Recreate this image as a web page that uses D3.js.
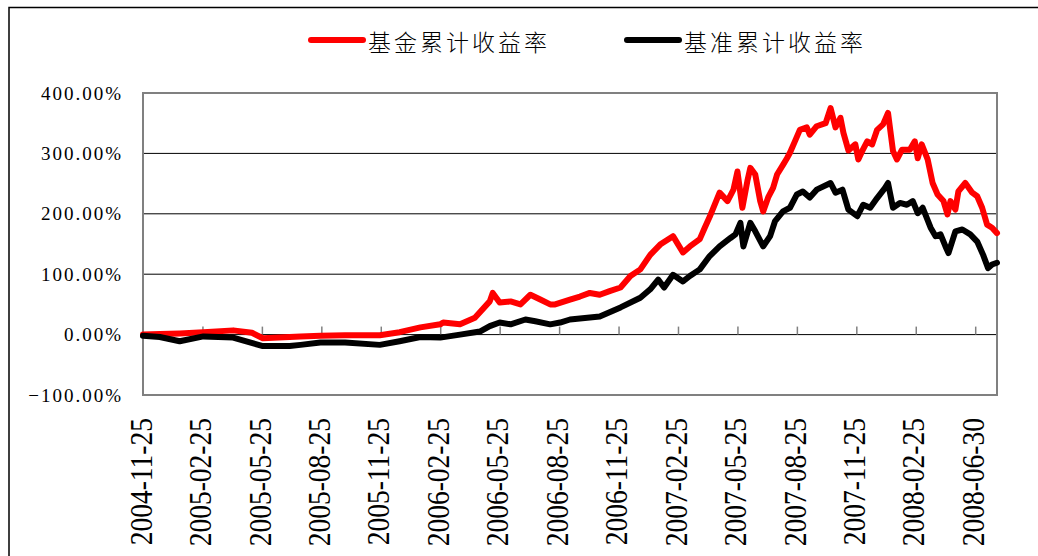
<!DOCTYPE html>
<html><head><meta charset="utf-8">
<script src="https://cdn.jsdelivr.net/npm/d3@7"></script>
<style>body{margin:0;background:#fff} svg{display:block}</style>
</head><body><svg id="c" width="1038" height="556"></svg>
<script>
// ---- data ----
const seriesNames = ["基金累计收益率", "基准累计收益率"];
const seriesColors = ["#ff0000", "#000000"];
const xTickLabels = ["2004-11-25","2005-02-25","2005-05-25","2005-08-25","2005-11-25","2006-02-25","2006-05-25","2006-08-25","2006-11-25","2007-02-25","2007-05-25","2007-08-25","2007-11-25","2008-02-25","2008-06-30"];
const xTickIndex = [0,60,120,180,240,300,360,420,480,540,600,660,720,780,840];
const yTicks = [-1, 0, 1, 2, 3, 4];
// trading-day index of each sample
const fundIdx = [0,17,37,61,91,110,121,148,159,179,204,239,259,280,300,303,320,335,350,353,360,371,381,391,401,411,416,431,441,451,461,471,482,492,502,512,522,535,545,552,562,567,572,582,590,596,600,605,610,613,618,623,626,631,636,640,646,650,653,658,663,670,673,680,689,694,699,704,707,712,719,722,726,731,736,741,747,752,757,761,766,774,779,782,786,792,797,802,808,812,815,820,823,830,837,842,847,852,857,862];
// fund cumulative return, %
const fundPct = [0,1,2,4,7,3,-6,-4,-3,-2,-1,-1,4,12,17,20,17,28,55,69,53,55,50,66,58,50,50,58,63,69,66,72,78,97,108,132,149,163,136,146,158,177,195,235,221,240,270,210,254,276,265,221,204,227,243,265,281,292,301,320,339,343,331,345,350,375,343,359,334,305,315,290,304,320,315,339,348,367,304,290,306,306,320,292,315,290,251,232,221,199,221,207,237,251,235,229,210,182,177,168];
const benchIdx = [0,17,37,61,91,121,148,159,179,204,239,259,280,300,320,340,350,360,371,386,396,411,421,431,461,482,502,512,520,526,535,545,552,562,572,582,593,598,603,606,613,618,626,633,638,646,653,660,666,673,680,694,699,706,712,721,727,734,741,749,752,757,764,771,777,782,787,795,800,805,810,813,820,827,835,842,848,853,857,862];
// benchmark cumulative return, %
const benchPct = [-2,-4,-11,-3,-5,-19,-19,-17,-13,-13,-17,-11,-4,-5,0,5,14,20,17,25,22,17,20,25,30,45,61,75,91,78,99,88,97,108,130,146,160,166,185,146,185,171,146,163,188,204,210,232,237,227,240,251,235,240,207,196,215,210,226,243,251,210,218,215,221,201,210,177,163,166,146,135,171,174,166,154,132,110,116,119];

// ---- chart ----
const svg = d3.select("#c");
const L = 143, R = 997, T = 93, B = 395;
const x = d3.scaleLinear().domain([0, 862]).range([L, R]);
const y = d3.scaleLinear().domain([-1, 4]).range([B, T]);

// outer frame
svg.append("path").attr("d", "M9,556V7.5H1038").attr("fill", "none").attr("stroke", "#000").attr("stroke-width", 1.5);

// gridlines
svg.append("g").selectAll("line").data(yTicks.filter(v => v > 0 && v < 4)).join("line")
  .attr("x1", L).attr("x2", R).attr("y1", d => y(d)).attr("y2", d => y(d))
  .attr("stroke", "#000").attr("stroke-width", 1);

// y axis labels
const yAxis = d3.axisLeft(y).tickValues(yTicks).tickSize(0).tickPadding(20).tickFormat(d3.format(".2%"));
const gy = svg.append("g").attr("transform", `translate(${L},0)`).call(yAxis);
gy.select(".domain").remove();
gy.selectAll("text").attr("font-family", "'Liberation Serif', serif").attr("font-size", 19)
  .attr("letter-spacing", 2).attr("fill", "#000");

// x axis line at 0 with ticks
const xAxis = d3.axisTop(x).tickValues(xTickIndex.slice(1)).tickSize(8).tickFormat("");
const gx = svg.append("g").attr("transform", `translate(0,${y(0)})`).call(xAxis);
gx.select(".domain").attr("d", `M${L},0H${R}`).attr("stroke", "#000");
gx.selectAll(".tick line").attr("stroke", "#808080").attr("stroke-width", 1.5);

// x labels
svg.append("g").selectAll("text").data(xTickIndex).join("text")
  .attr("transform", (d) => `translate(${x(d) - 2},418) rotate(-90) scale(1,1.15)`)
  .attr("text-anchor", "end").attr("dominant-baseline", "central")
  .attr("font-family", "'Liberation Serif', serif").attr("font-size", 27.5).attr("fill", "#000")
  .text((d, i) => xTickLabels[i]);

// plot frame
svg.append("rect").attr("x", L).attr("y", T).attr("width", R - L).attr("height", B - T)
  .attr("fill", "none").attr("stroke", "#808080").attr("stroke-width", 2);

// series
const line = d3.line().x(d => x(d[0])).y(d => y(d[1] / 100));
const series = [
  {name: seriesNames[0], color: seriesColors[0], pts: fundIdx.map((d, i) => [d, fundPct[i]])},
  {name: seriesNames[1], color: seriesColors[1], pts: benchIdx.map((d, i) => [d, benchPct[i]])}
];
svg.append("g").selectAll("path").data(series).join("path")
  .attr("d", d => line(d.pts)).attr("fill", "none").attr("stroke", d => d.color)
  .attr("stroke-width", 6).attr("stroke-linejoin", "round").attr("stroke-linecap", "round");

// legend
const legX = [311, 627];
const lg = svg.append("g").selectAll("g").data(series).join("g")
  .attr("transform", (d, i) => `translate(${legX[i]},40)`);
lg.append("line").attr("x1", 0).attr("x2", 52).attr("y1", 0).attr("y2", 0)
  .attr("stroke", d => d.color).attr("stroke-width", 6).attr("stroke-linecap", "round");
lg.append("text").attr("x", 57).attr("y", 1).attr("dominant-baseline", "central")
  .attr("font-family", "'Noto Sans CJK SC', sans-serif").attr("font-size", 23).attr("font-weight", 300)
  .attr("letter-spacing", 3).attr("fill", "#000").text(d => d.name);
</script></body></html>
